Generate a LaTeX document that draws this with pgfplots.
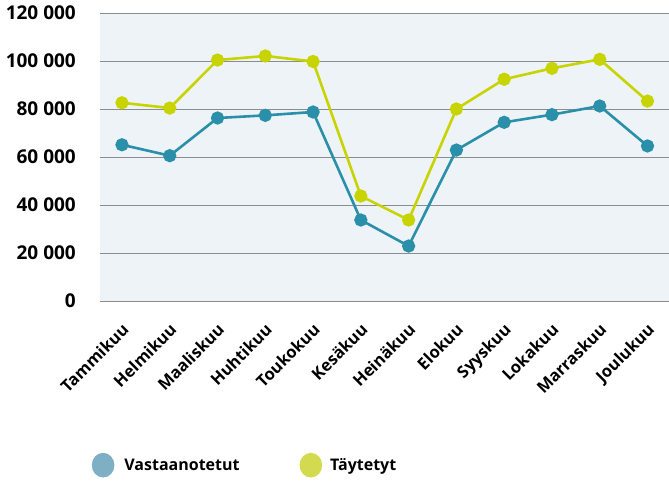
\documentclass[border=0pt]{standalone}
\usepackage{pgfplots}
\pgfplotsset{compat=1.18}
\usepackage{fontspec}
\setmainfont{Open Sans}
\definecolor{teal1}{HTML}{2A8FA8}
\definecolor{lime1}{HTML}{C8D400}
\definecolor{tealL}{HTML}{7FAFC4}
\definecolor{limeL}{HTML}{D4DA50}
\definecolor{bg}{HTML}{EEF3F7}
\definecolor{gridc}{HTML}{8C8C8C}
\pgfplotstableread{
x vast tayt
0 65100 82600
1 60550 80400
2 76250 100400
3 77350 102100
4 78750 99800
5 33750 43750
6 22900 33750
7 62900 80000
8 74450 92400
9 77650 96950
10 81250 100700
11 64600 83300
}\data
\begin{document}
\begin{tikzpicture}
\path[use as bounding box] (-100pt,-179pt) rectangle (569pt,301pt);
\begin{axis}[
  at={(0pt,0pt)}, anchor=south west,
  scale only axis, width=569pt, height=288pt,
  xmin=-0.46, xmax=11.45, ymin=0, ymax=120000,
  axis line style={draw=none},
  axis background/.style={fill=bg},
  ytick={0,20000,40000,60000,80000,100000,120000},
  yticklabels={0,20 000,40 000,60 000,80 000,100 000,120 000},
  scaled y ticks=false,
  ymajorgrids, major grid style={gridc, line width=1pt},
  xtick={0,...,11},
  xticklabels={Tammikuu,Helmikuu,Maaliskuu,Huhtikuu,Toukokuu,Kesäkuu,Heinäkuu,Elokuu,Syyskuu,Lokakuu,Marraskuu,Joulukuu},
  xticklabel style={xshift=-1pt, yshift=-21pt, rotate=45, anchor=north east, font=\fontsize{16.5}{18}\selectfont\bfseries, inner sep=0pt},
  yticklabel style={font=\fontsize{19}{20}\selectfont\bfseries, inner sep=0pt, xshift=-24pt},
  major tick length=0pt,
  legend style={at={(-0.02,-0.57)}, anchor=west, draw=none, fill=none, legend columns=2,
    font=\fontsize{16}{18}\selectfont\bfseries,
    /tikz/every even column/.append style={column sep=58pt}},
  legend cell align=left,
]
\addplot[teal1, line width=2.6pt, mark=*, mark size=5.3pt,
  legend image code/.code={\fill[tealL] (0.25cm,0cm) ellipse (10pt and 11pt); \path (0.6cm+8pt,0cm);}]
  table[x=x, y=vast] {\data};
\addlegendentry{Vastaanotetut}
\addplot[lime1, line width=2.6pt, mark=*, mark size=5.3pt,
  legend image code/.code={\fill[limeL] (0.25cm,0cm) ellipse (10pt and 11pt); \path (0.6cm+6pt,0cm);}]
  table[x=x, y=tayt] {\data};
\addlegendentry{Täytetyt}
\end{axis}
\end{tikzpicture}
\end{document}
